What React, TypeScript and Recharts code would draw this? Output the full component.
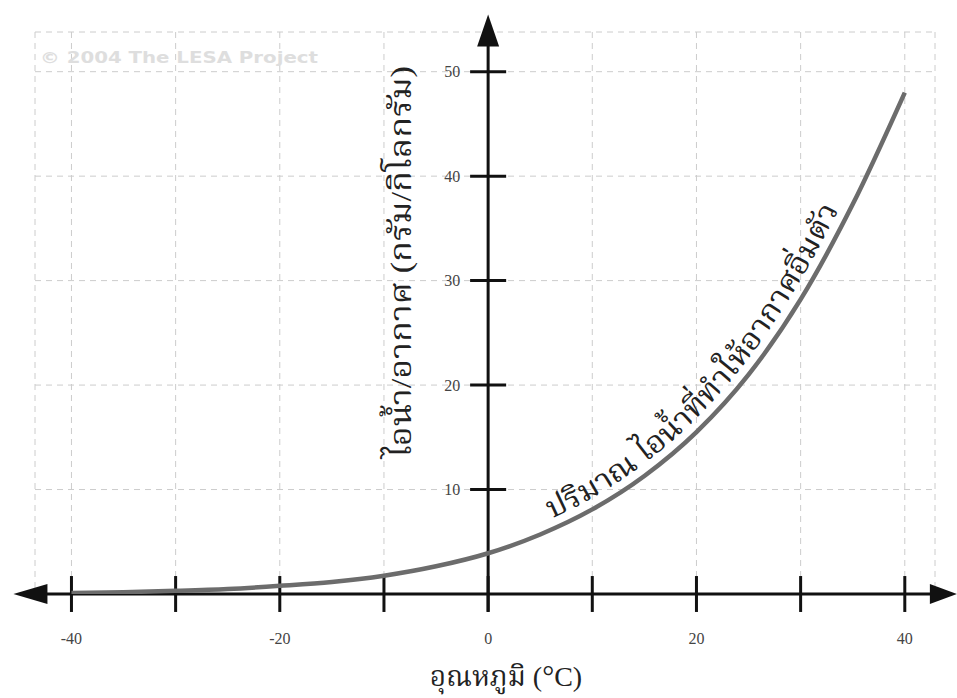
import React, { useEffect, useState } from 'react';
import {
  LineChart,
  Line,
  XAxis,
  YAxis,
  CartesianGrid,
  ReferenceLine,
  ReferenceDot,
  Customized,
} from 'recharts';

// ---- data ----
const temperatures = [-40, -35, -30, -25, -20, -15, -10, -5, 0, 5, 10, 15, 20, 25, 30, 35, 40];
const vaporValues = [0.1, 0.17, 0.3, 0.48, 0.78, 1.15, 1.75, 2.65, 3.9, 5.7, 8.1, 11.3, 15.5, 21, 28.2, 37.3, 48];
const xGridTicks = [-40, -30, -20, -10, 0, 10, 20, 30, 40];
const xLabelTicks = [-40, -20, 0, 20, 40];
const yTicks = [10, 20, 30, 40, 50];
const xDomain: [number, number] = [-43.5, 42.9];
const yDomain: [number, number] = [0, 53.8];
const xAxisEnds = [-42.5, 42.6];
const yAxisTop = 52.6;

const xTitle = 'อุณหภูมิ (';
const xTitleUnit = 'C)';
const yTitle = 'ไอน้ำ/อากาศ (กรัม/กิโลกรัม)';
const curveLabel = 'ปริมาณ ไอน้ำที่ทำให้อากาศอิ่มตัว';
const watermark = '© 2004  The LESA Project';

const data = temperatures.map((t, i) => ({ t, v: vaporValues[i] }));

const SERIF = '"Liberation Serif", "DejaVu Serif", "Noto Serif Thai", "Noto Sans Thai", serif';
const AXIS = '#111';

const Overlay = ({ pathD }: { pathD: string | null }) => (
  <g>
    <text
      x={40}
      y={63}
      fontFamily='"DejaVu Sans", sans-serif'
      fontWeight="bold"
      fontSize={16}
      fill="#dedede"
      textLength={278}
      lengthAdjust="spacingAndGlyphs"
    >
      {watermark}
    </text>
    <text
      x={400}
      y={262}
      transform="rotate(-90, 400, 262)"
      textAnchor="middle"
      dominantBaseline="central"
      fontFamily={SERIF}
      fontSize={30}
      fill="#222"
      textLength={392}
      lengthAdjust="spacingAndGlyphs"
    >
      {yTitle}
    </text>
    <text x={506} y={686} textAnchor="middle" fontFamily={SERIF} fontSize={28} fill="#222">
      {xTitle}
      <tspan fontSize={30}>°</tspan>
      {xTitleUnit}
    </text>
    {pathD && (
      <g>
        <defs>
          <path id="vapor-label-path" d={pathD} fill="none" stroke="none" />
        </defs>
        <text fontFamily={SERIF} fontSize={30} fill="#222">
          <textPath href="#vapor-label-path" startOffset={492}>
            <tspan dy={-10} textLength={438} lengthAdjust="spacingAndGlyphs">
              {curveLabel}
            </tspan>
          </textPath>
        </text>
      </g>
    )}
  </g>
);

export default function App() {
  const [pathD, setPathD] = useState<string | null>(null);
  useEffect(() => {
    let tries = 0;
    const timer = setInterval(() => {
      tries += 1;
      const p = document.querySelector('.vapor-line path.recharts-line-curve');
      const d = p ? p.getAttribute('d') : null;
      if (d) {
        setPathD(d);
        clearInterval(timer);
      } else if (tries > 300) {
        clearInterval(timer);
      }
    }, 10);
    return () => clearInterval(timer);
  }, []);

  return (
    <div style={{ position: 'absolute', left: 0, top: 0, width: 957, height: 698, background: '#fff' }}>
      <LineChart width={957} height={698} data={data} margin={{ top: 32, right: 22, left: 35, bottom: 0 }}>
        <CartesianGrid stroke="#cccccc" strokeDasharray="6 5" strokeWidth={1} />
        <XAxis
          dataKey="t"
          type="number"
          domain={xDomain}
          ticks={xGridTicks}
          allowDataOverflow
          axisLine={false}
          tickLine={false}
          tickSize={0}
          tickMargin={39}
          height={104}
          interval={0}
          tickFormatter={(v: number) => (xLabelTicks.includes(v) ? String(v) : '')}
          tick={{ fontFamily: SERIF, fontSize: 16, fill: '#444' }}
        />
        <YAxis type="number" domain={yDomain} ticks={yTicks} allowDataOverflow hide />

        {/* axes */}
        <ReferenceLine
          segment={[{ x: xAxisEnds[0], y: 0 }, { x: xAxisEnds[1], y: 0 }]}
          stroke={AXIS}
          strokeWidth={3}
          ifOverflow="visible"
        />
        <ReferenceLine
          segment={[{ x: 0, y: -1.7 }, { x: 0, y: yAxisTop }]}
          stroke={AXIS}
          strokeWidth={3}
          ifOverflow="visible"
        />
        {xGridTicks.map((v) => (
          <ReferenceLine
            key={`xt${v}`}
            segment={[{ x: v, y: -1.72 }, { x: v, y: 1.72 }]}
            stroke={AXIS}
            strokeWidth={3}
            ifOverflow="visible"
          />
        ))}
        {yTicks.map((v) => (
          <ReferenceLine
            key={`yt${v}`}
            segment={[{ x: -1.73, y: v }, { x: 1.73, y: v }]}
            stroke={AXIS}
            strokeWidth={3}
            ifOverflow="visible"
          />
        ))}
        {yTicks.map((v) => (
          <ReferenceDot
            key={`yl${v}`}
            x={0}
            y={v}
            r={0}
            ifOverflow="visible"
            shape={(p: any) => (
              <text
                x={p.cx - 28}
                y={p.cy}
                textAnchor="end"
                dominantBaseline="central"
                fontFamily={SERIF}
                fontSize={16}
                fill="#444"
              >
                {v}
              </text>
            )}
          />
        ))}
        {/* arrow heads */}
        <ReferenceDot
          x={xAxisEnds[0]}
          y={0}
          r={0}
          ifOverflow="visible"
          shape={(p: any) => (
            <polygon points={`${p.cx + 2},${p.cy - 10} ${p.cx - 32},${p.cy} ${p.cx + 2},${p.cy + 10}`} fill={AXIS} />
          )}
        />
        <ReferenceDot
          x={xAxisEnds[1]}
          y={0}
          r={0}
          ifOverflow="visible"
          shape={(p: any) => (
            <polygon points={`${p.cx - 2},${p.cy - 10} ${p.cx + 25},${p.cy} ${p.cx - 2},${p.cy + 10}`} fill={AXIS} />
          )}
        />
        <ReferenceDot
          x={0}
          y={yAxisTop}
          r={0}
          ifOverflow="visible"
          shape={(p: any) => (
            <polygon points={`${p.cx - 11},${p.cy + 2} ${p.cx},${p.cy - 30} ${p.cx + 11},${p.cy + 2}`} fill={AXIS} />
          )}
        />

        <Line
          className="vapor-line"
          type="monotone"
          dataKey="v"
          stroke="#6c6c6c"
          strokeWidth={4.5}
          dot={false}
          isAnimationActive={false}
        />
        <Customized component={<Overlay pathD={pathD} />} />
      </LineChart>
    </div>
  );
}
